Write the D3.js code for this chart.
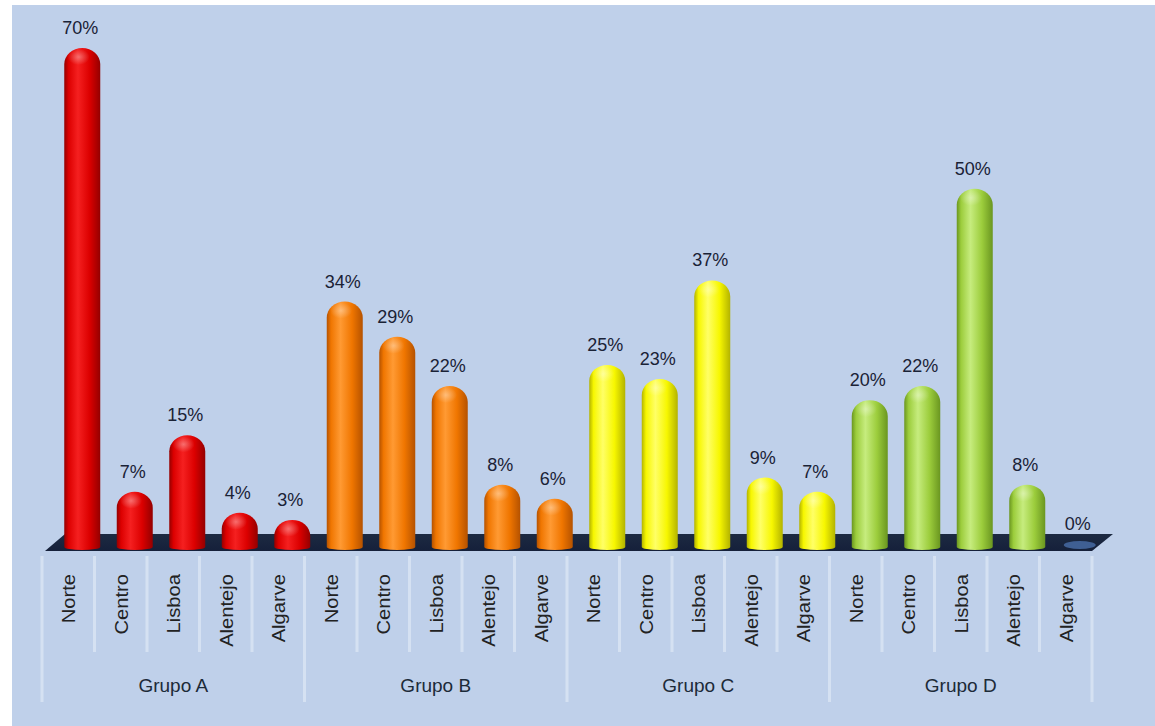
<!DOCTYPE html>
<meta charset="utf-8">
<style>
  body { margin: 0; background: #fff; overflow: hidden; }
  text { font-family: "Liberation Sans", Arial, sans-serif; }
  .value { font-size: 18px; fill: #1a2236; }
  .region { font-size: 18px; fill: #222; }
  .group { font-size: 19px; fill: #1c2a38; }
</style>
<body>
<script src="https://d3js.org/d3.v7.min.js"></script>
<script>

// data
var groups = ['Grupo A', 'Grupo B', 'Grupo C', 'Grupo D'];
var regions = ['Norte', 'Centro', 'Lisboa', 'Alentejo', 'Algarve'];
var grupoA = [70, 7, 15, 4, 3];
var grupoB = [34, 29, 22, 8, 6];
var grupoC = [25, 23, 37, 9, 7];
var grupoD = [20, 22, 50, 8, 0];
// edge, highlight, body
var groupColors = [
  ['#940000', '#f52020', '#dc0000'],
  ['#b55200', '#ff9a33', '#f07600'],
  ['#b3b300', '#ffff66', '#f7f700'],
  ['#6a9620', '#c6ec7e', '#9ccd3c']
];

var width = 1155, height = 726;
var rows = [];
[grupoA, grupoB, grupoC, grupoD].forEach(function (vals, g) {
  vals.forEach(function (v, i) {
    rows.push({ key: g + '-' + i, group: g, region: regions[i], value: v });
  });
});

var x = d3.scaleBand().domain(rows.map(function (d) { return d.key; })).range([42, 1092]).padding(0);
var y = d3.scaleLinear().domain([0, 70]).range([541, 48]);
var floorY = 549, depth = 14, barW = 36, capH = 16;

var svg = d3.select('body').append('svg').attr('width', width).attr('height', height);
var defs = svg.append('defs');

groupColors.forEach(function (c, g) {
  var lg = defs.append('linearGradient').attr('id', 'bar' + g).attr('x1', 0).attr('x2', 1).attr('y1', 0).attr('y2', 0);
  lg.append('stop').attr('offset', '0%').attr('stop-color', c[0]);
  lg.append('stop').attr('offset', '12%').attr('stop-color', c[2]);
  lg.append('stop').attr('offset', '38%').attr('stop-color', c[1]);
  lg.append('stop').attr('offset', '70%').attr('stop-color', c[2]);
  lg.append('stop').attr('offset', '100%').attr('stop-color', c[0]);
});
var rg = defs.append('radialGradient').attr('id', 'shine');
rg.append('stop').attr('offset', '0%').attr('stop-color', '#fff').attr('stop-opacity', 0.35);
rg.append('stop').attr('offset', '100%').attr('stop-color', '#fff').attr('stop-opacity', 0);
var fg = defs.append('linearGradient').attr('id', 'floor').attr('x1', 0).attr('x2', 0).attr('y1', 0).attr('y2', 1);
fg.append('stop').attr('offset', '0%').attr('stop-color', '#1d2a42');
fg.append('stop').attr('offset', '100%').attr('stop-color', '#15203a');

// background panel
svg.append('rect').attr('x', 12).attr('y', 5).attr('width', width - 12).attr('height', height - 5).attr('fill', '#bfd0ea');

// tick lines
var x0 = x.range()[0], x1 = x.range()[1];
rows.forEach(function (d, i) {
  svg.append('line').attr('x1', x(d.key)).attr('x2', x(d.key))
    .attr('y1', 556).attr('y2', i % 5 === 0 ? 702 : 652)
    .attr('stroke', '#e4ecf7').attr('stroke-width', 3).attr('stroke-opacity', 0.6);
});
svg.append('line').attr('x1', x1).attr('x2', x1).attr('y1', 556).attr('y2', 702)
  .attr('stroke', '#e4ecf7').attr('stroke-width', 3).attr('stroke-opacity', 0.6);

// floor
svg.append('path')
  .attr('d', 'M' + (x0 + 3) + ',551L' + (x0 + 23) + ',534L' + (x1 + 21) + ',534L' + x1 + ',551Z')
  .attr('fill', 'url(#floor)');

// bars
function barPath(bx, top, bottom) {
  var r = barW / 2;
  return 'M' + bx + ',' + bottom + 'L' + bx + ',' + (top + capH) +
    'A' + r + ',' + capH + ' 0 0 1 ' + (bx + barW) + ',' + (top + capH) +
    'L' + (bx + barW) + ',' + bottom +
    'A' + r + ',3 0 0 1 ' + bx + ',' + bottom + 'Z';
}
function barX(d) { return x(d.key) + x.bandwidth() / 2 + depth - barW / 2; }

var bars = svg.append('g').selectAll('g').data(rows).enter().append('g');
bars.filter(function (d) { return d.value > 0; }).append('path')
  .attr('d', function (d) { return barPath(barX(d), y(d.value), floorY - 2); })
  .attr('fill', function (d) { return 'url(#bar' + d.group + ')'; });
bars.filter(function (d) { return d.value > 0; }).append('ellipse')
  .attr('cx', function (d) { return barX(d) + barW * 0.4; })
  .attr('cy', function (d) { return y(d.value) + 9; })
  .attr('rx', 11).attr('ry', 8)
  .attr('fill', 'url(#shine)');
bars.filter(function (d) { return d.value === 0; }).append('ellipse')
  .attr('cx', function (d) { return barX(d) + barW / 2; })
  .attr('cy', 545).attr('rx', 16).attr('ry', 4)
  .attr('fill', '#3f5f93');

// value labels
bars.append('text').attr('class', 'value')
  .attr('x', function (d) { return barX(d) + barW / 2 - 2; })
  .attr('y', function (d) { return d.value > 0 ? y(d.value) - 14 : 530; })
  .attr('text-anchor', 'middle')
  .text(function (d) { return d.value + '%'; });

// category labels (slightly stretched along the text, like the original)
svg.append('g').selectAll('text').data(rows).enter().append('text')
  .attr('class', 'region')
  .attr('text-anchor', 'end')
  .attr('transform', function (d) { return 'translate(' + (x(d.key) + x.bandwidth() / 2 + 7) + ',574) rotate(-90) scale(1.12,1)'; })
  .text(function (d) { return d.region; });

// group labels
svg.append('g').selectAll('text').data(groups).enter().append('text')
  .attr('class', 'group')
  .attr('x', function (g, i) { return (x(i + '-0') + x(i + '-4') + x.bandwidth()) / 2; })
  .attr('y', 692)
  .attr('text-anchor', 'middle')
  .text(function (g) { return g; });

</script>
</body>
</html>
